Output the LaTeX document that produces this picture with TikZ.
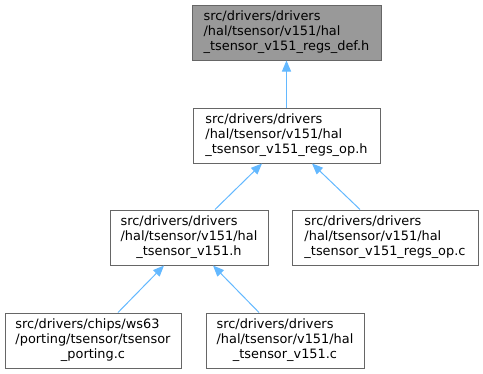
\documentclass[tikz,border=0pt]{standalone}
\usepackage{fontspec}
\setmainfont{DejaVu Sans}
\usetikzlibrary{arrows.meta}
\definecolor{edgeblue}{HTML}{63B8FF}
\definecolor{boxline}{HTML}{666666}
\definecolor{topfill}{HTML}{999999}
\newcommand{\flab}[3]{\begin{tabular}{@{}l@{}}#1\\#2\\\multicolumn{1}{@{}c@{}}{#3}\end{tabular}}
\begin{document}
\begin{tikzpicture}[x=1pt,y=-1pt,
  filebox/.style={draw=boxline,line width=1pt,fill=white,inner sep=0pt,
    font=\fontsize{12.9}{15}\selectfont,
    minimum height=55pt},
  dep/.style={draw=edgeblue,line width=1pt,{Triangle[length=11pt,width=9pt]}-},
  ]
\useasboundingbox (0,0) rectangle (483,373);
\node[filebox,fill=topfill,minimum width=189pt] (def) at (286.5,32.5)
  {\flab{src/drivers/drivers}{/hal/tsensor/v151/hal}{\_tsensor\_v151\_regs\_def.h}};
\node[filebox,minimum width=187pt] (oph) at (286.5,135.5)
  {\flab{src/drivers/drivers}{/hal/tsensor/v151/hal}{\_tsensor\_v151\_regs\_op.h}};
\node[filebox,minimum width=158pt] (vh) at (189,237.5)
  {\flab{src/drivers/drivers}{/hal/tsensor/v151/hal}{\_tsensor\_v151.h}};
\node[filebox,minimum width=186pt] (opc) at (385,237.5)
  {\flab{src/drivers/drivers}{/hal/tsensor/v151/hal}{\_tsensor\_v151\_regs\_op.c}};
\node[filebox,minimum width=176pt] (port) at (93,340.5)
  {\flab{src/drivers/chips/ws63}{/porting/tsensor/tsensor}{\_porting.c}};
\node[filebox,minimum width=158pt] (vc) at (285,340.5)
  {\flab{src/drivers/drivers}{/hal/tsensor/v151/hal}{\_tsensor\_v151.c}};
\draw[dep] (def.south) -- (oph.north);
\draw[dep] ([xshift=-24.5pt]oph.south) -- ([xshift=26pt]vh.north);
\draw[dep] ([xshift=25.5pt]oph.south) -- ([xshift=-25pt]opc.north);
\draw[dep] ([xshift=-25pt]vh.south) -- ([xshift=25pt]port.north);
\draw[dep] ([xshift=24pt]vh.south) -- ([xshift=-26pt]vc.north);
\end{tikzpicture}
\end{document}
